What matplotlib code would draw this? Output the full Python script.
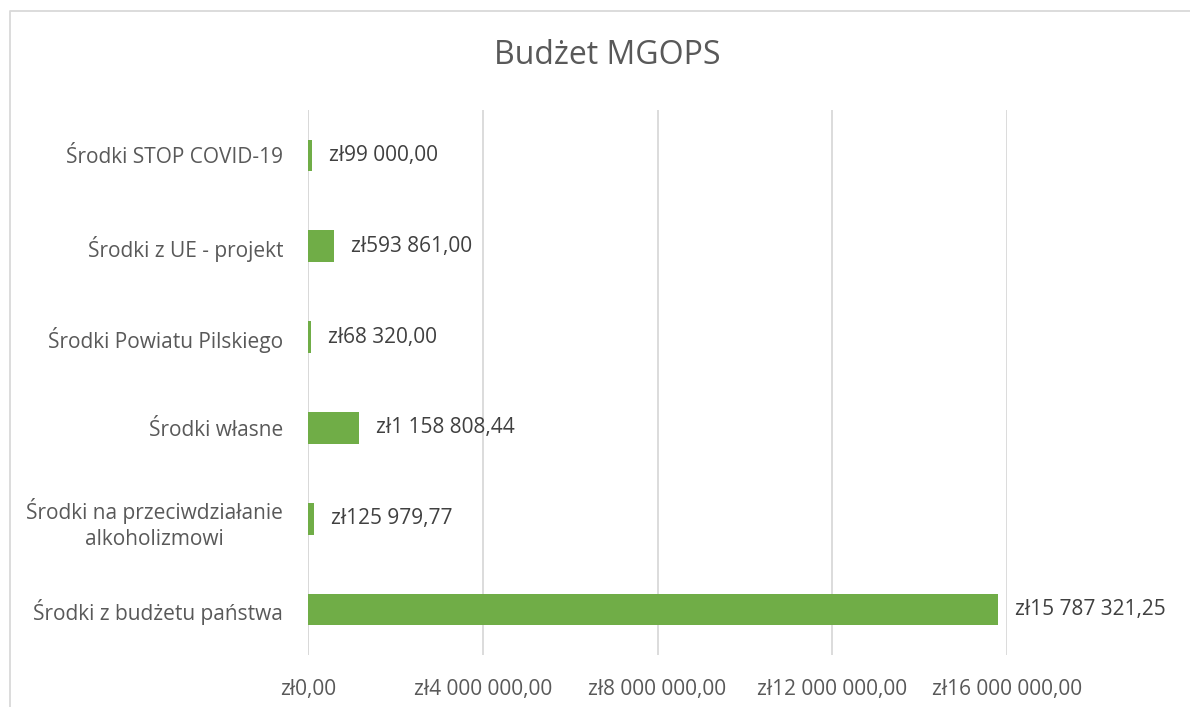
import matplotlib.pyplot as plt
from matplotlib.lines import Line2D

categories = [
    "Środki z budżetu państwa",
    "Środki na przeciwdziałanie\nalkoholizmowi",
    "Środki własne",
    "Środki Powiatu Pilskiego",
    "Środki z UE - projekt",
    "Środki STOP COVID-19",
]
values = [15787321.25, 125979.77, 1158808.44, 68320.00, 593861.00, 99000.00]
ticks = [0, 4000000, 8000000, 12000000, 16000000]


def pln(v):
    s = f"{v:,.2f}"
    s = s.replace(",", " ").replace(".", ",")
    return "zł" + s


plt.rcParams['font.family'] = ['Open Sans', 'DejaVu Sans']
text_col = "#404040"
grid_col = "#D9D9D9"

fig = plt.figure(figsize=(11.9, 7.07), dpi=100)
ax = fig.add_axes([308 / 1190, 1 - 655 / 707, (1007 - 308) / 1190, (655 - 110) / 707])

y = range(len(categories))
ax.barh(y, values, height=0.35, color="#70AD47", zorder=3)
for i, v in enumerate(values):
    ax.text(v + 390000, i, pln(v), va="center", ha="left", fontsize=15, color=text_col)

ax.set_xlim(0, 16000000)
ax.set_ylim(-0.5, len(categories) - 0.5)
ax.set_xticks(ticks)
ax.set_xticklabels([pln(t) for t in ticks], fontsize=15, color="#595959")
ax.set_yticks(list(y))
ax.set_yticklabels(categories, fontsize=15, color="#595959",
                   multialignment="center", linespacing=1.35)
ax.tick_params(axis="both", length=0)
ax.tick_params(axis="x", pad=17)
ax.tick_params(axis="y", pad=18)
ax.xaxis.grid(True, color=grid_col, linewidth=1.3, zorder=0)
for sp in ax.spines.values():
    sp.set_visible(False)
ax.axvline(0, color=grid_col, linewidth=1.3, zorder=1)

fig.text(607 / 1190, 1 - 55 / 707, "Budżet MGOPS", ha="center", va="center",
         fontsize=23, color="#595959")

# chart area border (top and left edges visible)
fig.add_artist(Line2D([10 / 1190, 10 / 1190, 1.0], [0, 1 - 11 / 707, 1 - 11 / 707],
                      transform=fig.transFigure, color=grid_col, linewidth=1.3))

fig.savefig("out.png", dpi=100)
